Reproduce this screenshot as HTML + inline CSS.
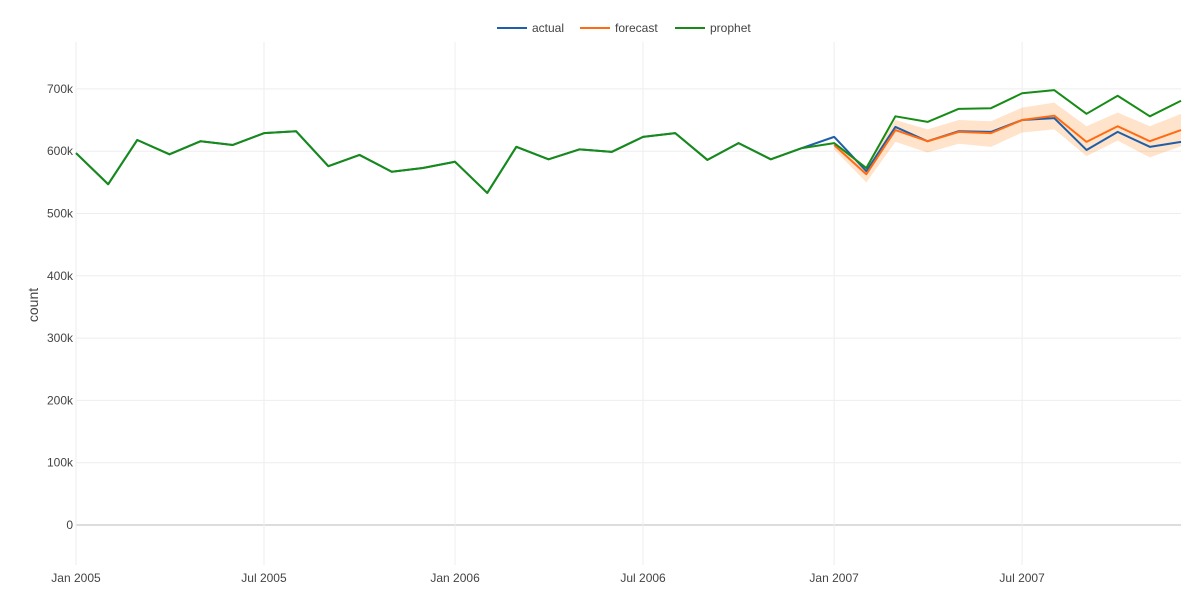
<!DOCTYPE html>
<html><head><meta charset="utf-8"><style>
body{margin:0;background:#fff;}
svg text{font-family:"Liberation Sans",sans-serif;fill:#444;}
</style></head><body>
<svg id="chart" width="1200" height="601" xmlns="http://www.w3.org/2000/svg">
<g id="grid"></g>
<g id="band"></g>
<g id="lines"></g>
<g id="axes"></g>
<g id="legend"></g>
<text x="38" y="305" font-size="14" text-anchor="middle" transform="rotate(-90 38 305)">count</text>
</svg>
<script>
const months = ["2005-01","2005-02","2005-03","2005-04","2005-05","2005-06","2005-07","2005-08","2005-09","2005-10","2005-11","2005-12","2006-01","2006-02","2006-03","2006-04","2006-05","2006-06","2006-07","2006-08","2006-09","2006-10","2006-11","2006-12","2007-01","2007-02","2007-03","2007-04","2007-05","2007-06","2007-07","2007-08","2007-09","2007-10","2007-11","2007-12"];
const prophet = [597,547,618,595,616,610,629,632,576,594,567,573,583,533,607,587,603,599,623,629,586,613,587,605,613,573,656,647,668,669,693,698,660,689,656,681];
const actual = [597,547,618,595,616,610,629,632,576,594,567,573,583,533,607,587,603,599,623,629,586,613,587,605,623,568,639,616,632,631,650,653,602,631,607,615];
const forecastMonths = ["2007-01","2007-02","2007-03","2007-04","2007-05","2007-06","2007-07","2007-08","2007-09","2007-10","2007-11","2007-12"];
const forecast = [610,563,634,616,631,629,650,657,615,640,616,634];
const upper = [615,575,650,635,650,648,670,678,640,662,640,660];
const lower = [603,550,615,598,612,607,630,635,592,617,590,608];
const yTicks = [0,100,200,300,400,500,600,700];
const xTicks = ["2005-01","2005-07","2006-01","2006-07","2007-01","2007-07"];
const xTickLabels = ["Jan 2005","Jul 2005","Jan 2006","Jul 2006","Jan 2007","Jul 2007"];

const NS="http://www.w3.org/2000/svg";
const t0=Date.UTC(2005,0,1), t1=Date.UTC(2007,11,1);
function xs(m){const [y,mo]=m.split("-").map(Number);return 76+(Date.UTC(y,mo-1,1)-t0)/(t1-t0)*(1181-76);}
function ys(v){return 525-v*0.623;}
function mk(tag,attrs,parent){const e=document.createElementNS(NS,tag);for(const k in attrs)e.setAttribute(k,attrs[k]);parent.appendChild(e);return e;}
const grid=document.getElementById("grid"),axes=document.getElementById("axes");
yTicks.forEach((v,i)=>{
  const l=mk("line",{x1:76,x2:1181,y1:ys(v),y2:ys(v),stroke:v===0?"#ddd":"#eee","stroke-width":v===0?2:1},grid);
  
  
  const t=mk("text",{x:73,y:ys(v)+4,"font-size":12,"text-anchor":"end"},axes);
  t.textContent=v===0?"0":v+"k";
  
  
});
xTicks.forEach((m,i)=>{
  const l=mk("line",{x1:xs(m),x2:xs(m),y1:42,y2:565,stroke:"#eee","stroke-width":1},grid);
  
  
  const t=mk("text",{x:xs(m),y:582,"font-size":12,"text-anchor":"middle"},axes);
  t.textContent=xTickLabels[i];
  
  
});
let bp=forecastMonths.map((m,i)=>xs(m)+","+ys(upper[i])).join(" ")+" "+forecastMonths.slice().reverse().map((m,j)=>{const i=forecastMonths.length-1-j;return xs(m)+","+ys(lower[i]);}).join(" ");
const band=mk("polygon",{points:bp,fill:"rgba(255,127,14,0.22)",stroke:"none"},document.getElementById("band"));


const lines=document.getElementById("lines");
function line(ms,vals,color,name){
  const p=mk("polyline",{points:ms.map((m,i)=>xs(m)+","+ys(vals[i])).join(" "),fill:"none",stroke:color,"stroke-width":2,"stroke-linejoin":"round"},lines);
  
  
}
line(months,actual,"#1f5fa8","actual-line");
line(forecastMonths,forecast,"#ff6a13","forecast-line");
line(months,prophet,"#168c16","prophet-line");
const legend=document.getElementById("legend");
[["actual","#1f5fa8",497],["forecast","#ff6a13",580],["prophet","#168c16",675]].forEach(([n,c,x])=>{
  const g=mk("g",{},legend);
  
  
  mk("line",{x1:x,x2:x+30,y1:28,y2:28,stroke:c,"stroke-width":2},g);
  const t=mk("text",{x:x+35,y:32,"font-size":12},g);
  t.textContent=n;
});
</script>
</body></html>
